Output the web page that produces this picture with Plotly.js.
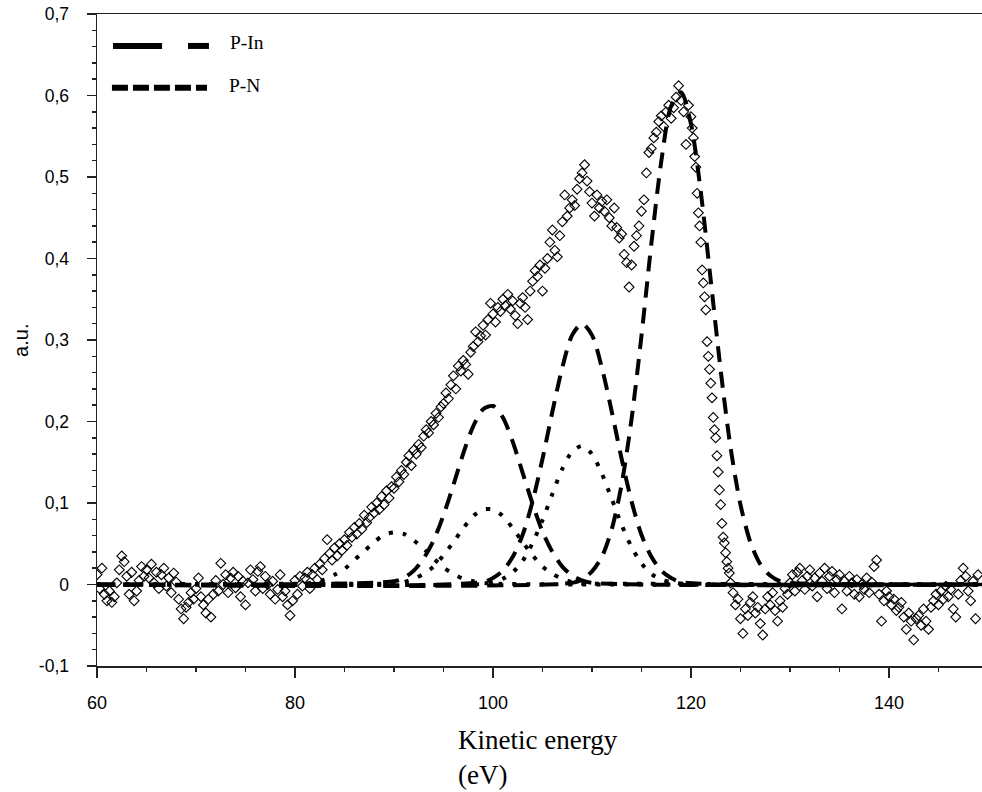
<!DOCTYPE html>
<html><head><meta charset="utf-8">
<script src="https://cdn.plot.ly/plotly-3.0.1.min.js"></script>
<style>html,body{margin:0;padding:0;background:#fff}#chart{width:982px;height:792px}</style>
</head><body><div id="chart"></div>
<script>
// Measured spectrum (kinetic energy in eV, intensity in a.u.)
const energy = [
60,60.25,60.5,60.75,61,61.25,61.5,61.75,62,62.25,62.5,62.75,63,63.25,63.5,63.75,64,64.25,64.5,64.75,
65,65.25,65.5,65.75,66,66.25,66.5,66.75,67,67.25,67.5,67.75,68,68.25,68.5,68.75,69,69.25,69.5,69.75,
70,70.25,70.5,70.75,71,71.25,71.5,71.75,72,72.25,72.5,72.75,73,73.25,73.5,73.75,74,74.25,74.5,74.75,
75,75.25,75.5,75.75,76,76.25,76.5,76.75,77,77.25,77.5,77.75,78,78.25,78.5,78.75,79,79.25,79.5,79.75,
80,80.25,80.5,80.75,81,81.25,81.5,81.75,82,82.25,82.5,82.75,83,83.25,83.5,83.75,84,84.25,84.5,84.75,
85,85.25,85.5,85.75,86,86.25,86.5,86.75,87,87.25,87.5,87.75,88,88.25,88.5,88.75,89,89.25,89.5,89.75,
90,90.25,90.5,90.75,91,91.25,91.5,91.75,92,92.25,92.5,92.75,93,93.25,93.5,93.75,94,94.25,94.5,94.75,
95,95.25,95.5,95.75,96,96.25,96.5,96.75,97,97.25,97.5,97.75,98,98.25,98.5,98.75,99,99.25,99.5,99.75,
100,100.25,100.5,100.75,101,101.25,101.5,101.75,102,102.25,102.5,102.75,103,103.25,103.5,103.75,104,104.25,104.5,104.75,
105,105.25,105.5,105.75,106,106.25,106.5,106.75,107,107.25,107.5,107.75,108,108.25,108.5,108.75,109,109.25,109.5,109.75,
110,110.25,110.5,110.75,111,111.25,111.5,111.75,112,112.25,112.5,112.75,113,113.25,113.5,113.75,114,114.25,114.5,114.75,
115,115.25,115.5,115.75,116,116.25,116.5,116.75,117,117.25,117.5,117.75,118,118.25,118.5,118.75,119,119.25,119.5,119.75,
120,120.125,120.25,120.375,120.5,120.625,120.75,120.875,121,121.125,121.25,121.375,121.5,121.625,121.75,121.875,
122,122.125,122.25,122.375,122.5,122.625,122.75,122.875,123,123.125,123.25,123.375,123.5,123.625,123.75,123.875,124,
124.25,124.5,124.75,
125,125.25,125.5,125.75,126,126.25,126.5,126.75,127,127.25,127.5,127.75,128,128.25,128.5,128.75,129,129.25,129.5,129.75,
130,130.25,130.5,130.75,131,131.25,131.5,131.75,132,132.25,132.5,132.75,133,133.25,133.5,133.75,134,134.25,134.5,134.75,
135,135.25,135.5,135.75,136,136.25,136.5,136.75,137,137.25,137.5,137.75,138,138.25,138.5,138.75,139,139.25,139.5,139.75,
140,140.25,140.5,140.75,141,141.25,141.5,141.75,142,142.25,142.5,142.75,143,143.25,143.5,143.75,144,144.25,144.5,144.75,
145,145.25,145.5,145.75,146,146.25,146.5,146.75,147,147.25,147.5,147.75,148,148.25,148.5,148.75,149
];
const intensity = [
0.012,-0.005,0.020,-0.012,-0.020,-0.008,-0.022,-0.015,0.002,0.018,0.035,0.028,0.010,-0.012,0.015,-0.020,-0.008,0.005,0.022,0.010,
0.018,0.008,0.025,0.002,0.015,-0.005,0.012,0.020,-0.002,0.008,-0.010,0.014,0.003,-0.018,-0.030,-0.042,-0.028,-0.022,-0.010,-0.018,
-0.005,0.008,-0.015,-0.025,-0.035,-0.018,-0.040,-0.012,0.005,-0.008,0.026,0.000,0.012,-0.010,0.008,0.015,-0.004,0.010,-0.015,0.004,
-0.025,0.002,0.018,0.006,-0.008,0.016,0.022,-0.005,0.010,0.000,-0.012,0.004,-0.018,-0.006,0.012,-0.015,-0.008,-0.025,-0.038,-0.020,
0.005,-0.012,0.010,-0.002,0.008,0.015,-0.005,0.012,0.020,0.006,0.025,0.018,0.032,0.055,0.038,0.030,0.045,0.035,0.050,0.042,
0.055,0.048,0.064,0.058,0.070,0.062,0.075,0.068,0.085,0.076,0.082,0.095,0.088,0.100,0.092,0.108,0.098,0.115,0.106,0.120,
0.118,0.132,0.126,0.140,0.135,0.150,0.158,0.146,0.165,0.160,0.172,0.168,0.182,0.190,0.186,0.200,0.196,0.210,0.205,0.218,
0.222,0.235,0.228,0.245,0.256,0.240,0.268,0.262,0.275,0.270,0.258,0.285,0.292,0.310,0.298,0.305,0.318,0.306,0.325,0.345,
0.332,0.322,0.340,0.335,0.350,0.342,0.356,0.338,0.348,0.330,0.320,0.345,0.352,0.340,0.325,0.360,0.372,0.385,0.378,0.392,
0.360,0.388,0.400,0.420,0.435,0.410,0.402,0.428,0.445,0.478,0.452,0.462,0.472,0.465,0.485,0.498,0.505,0.515,0.495,0.482,
0.468,0.452,0.478,0.462,0.470,0.458,0.472,0.450,0.440,0.462,0.438,0.425,0.430,0.405,0.395,0.365,0.392,0.415,0.428,0.440,
0.458,0.472,0.505,0.530,0.535,0.548,0.555,0.568,0.575,0.562,0.580,0.588,0.572,0.585,0.598,0.612,0.594,0.580,0.540,0.588,
0.574,0.560,0.548,0.525,0.512,0.480,0.456,0.440,0.420,0.386,0.370,0.353,0.337,0.298,0.280,0.264,
0.247,0.229,0.205,0.190,0.180,0.158,0.138,0.116,0.098,0.075,0.058,0.051,0.039,0.028,0.020,0.014,0.002,
-0.010,-0.025,-0.018,
-0.042,-0.060,-0.030,-0.038,-0.022,-0.015,-0.035,-0.028,-0.048,-0.062,-0.030,-0.015,-0.025,-0.010,-0.032,-0.045,-0.020,-0.028,-0.005,-0.012,
0.002,0.012,-0.008,0.015,0.020,0.005,-0.006,0.010,0.018,-0.002,0.008,-0.015,0.014,0.004,0.020,-0.005,0.010,0.016,-0.010,0.006,
0.012,-0.030,0.004,-0.008,0.010,0.002,-0.012,0.006,-0.015,0.000,-0.006,0.008,-0.010,0.003,0.022,0.030,-0.012,-0.045,-0.020,-0.008,
-0.015,-0.025,-0.018,-0.032,-0.028,-0.022,-0.040,-0.055,-0.035,-0.045,-0.068,-0.042,-0.038,-0.050,-0.030,-0.045,-0.055,-0.028,-0.020,-0.012,
-0.025,-0.008,-0.018,-0.002,-0.015,-0.006,-0.030,-0.040,-0.012,0.005,0.020,0.010,-0.008,-0.020,0.004,-0.042,0.012
];

// Fitted component curves
const dashPeak1X = [60,90,91,92,93,94,95,96,97,98,99,100,101,102,103,104,105,106,107,108,109,110,149];
const dashPeak1Y = [0,0.004,0.008,0.017,0.032,0.054,0.085,0.122,0.161,0.194,0.215,0.219,0.205,0.175,0.137,0.099,0.065,0.040,0.022,0.011,0.005,0.002,0];
const dashPeak2X = [60,99,100,101,102,103,104,105,106,107,108,109,110,111,112,113,114,115,116,117,118,119,149];
const dashPeak2Y = [0,0.003,0.008,0.017,0.034,0.061,0.102,0.154,0.212,0.266,0.306,0.320,0.306,0.266,0.212,0.154,0.102,0.061,0.034,0.017,0.008,0.003,0];
const dashPeak3X = [60,108,109,110,111,112,113,114,115,116,117,118,119,120,121,122,123,124,125,126,127,128,129,130,149];
const dashPeak3Y = [0,0.002,0.006,0.016,0.034,0.068,0.123,0.203,0.305,0.418,0.519,0.587,0.604,0.565,0.481,0.373,0.263,0.168,0.098,0.052,0.025,0.011,0.004,0.002,0];
const dotPeak1X = [60,80,81,82,83,84,85,86,87,88,89,90,91,92,93,94,95,96,97,98,99,100,149];
const dotPeak1Y = [0,0.001,0.001,0.003,0.006,0.012,0.019,0.030,0.041,0.052,0.061,0.064,0.062,0.054,0.044,0.032,0.021,0.013,0.007,0.004,0.002,0.001,0];
const dotPeak2X = [60,89,90,91,92,93,94,95,96,97,98,99,100,101,102,103,104,105,106,107,108,109,110,149];
const dotPeak2Y = [0,0.001,0.001,0.003,0.007,0.013,0.022,0.036,0.052,0.069,0.084,0.092,0.092,0.084,0.069,0.052,0.036,0.022,0.013,0.007,0.003,0.001,0.001,0];
const dotPeak3X = [60,98,99,100,101,102,103,104,105,106,107,108,109,110,111,112,113,114,115,116,117,118,119,149];
const dotPeak3Y = [0,0.000,0.001,0.003,0.007,0.015,0.029,0.051,0.079,0.111,0.142,0.163,0.170,0.160,0.136,0.105,0.073,0.046,0.026,0.013,0.006,0.003,0.001,0];
const baselineX = [123.2, 149.6];
const baselineY = [0, 0];

// Ticks and labels
const xTickVals = [60, 80, 100, 120, 140];
const xTickText = ['60', '80', '100', '120', '140'];
const yTickVals = [-0.1, 0, 0.1, 0.2, 0.3, 0.4, 0.5, 0.6, 0.7];
const yTickText = ['-0,1', '0', '0,1', '0,2', '0,3', '0,4', '0,5', '0,6', '0,7'];
const legendNames = ['P-In', 'P-N'];
const xTitle = 'Kinetic energy<br>(eV)';
const yTitle = 'a.u.';

const sans = 'Liberation Sans, Arial, sans-serif';
const serif = 'Liberation Serif, Times New Roman, serif';
const dashStyle = {color: '#000', width: 4, dash: '16px,10px', shape: 'spline', smoothing: 0.8};
const dotStyle = {color: '#000', width: 4, dash: '4px,10px', shape: 'spline', smoothing: 0.8};

const traces = [
  {x: energy, y: intensity, mode: 'markers', type: 'scatter',
   marker: {symbol: 'diamond-open', size: 7.5, color: '#000', line: {width: 1.1, color: '#000'}}},
  {x: baselineX, y: baselineY, mode: 'lines', line: {color: '#000', width: 3.5}},
  {x: dashPeak1X, y: dashPeak1Y, mode: 'lines', line: dashStyle},
  {x: dashPeak2X, y: dashPeak2Y, mode: 'lines', line: dashStyle},
  {x: dashPeak3X, y: dashPeak3Y, mode: 'lines', line: dashStyle},
  {x: dotPeak1X, y: dotPeak1Y, mode: 'lines', line: dotStyle},
  {x: dotPeak2X, y: dotPeak2Y, mode: 'lines', line: dotStyle},
  {x: dotPeak3X, y: dotPeak3Y, mode: 'lines', line: dotStyle}
];

const axisCommon = {
  showgrid: false, zeroline: false, showline: true, linecolor: '#222', linewidth: 1.5,
  ticks: 'outside', tickwidth: 1.5, tickcolor: '#222', tickmode: 'array'
};

const layout = {
  width: 982, height: 792,
  margin: {l: 97, r: 0, t: 14, b: 126, pad: 0},
  paper_bgcolor: '#fff', plot_bgcolor: '#fff',
  showlegend: false,
  xaxis: Object.assign({}, axisCommon, {
    range: [60, 149.4], mirror: true, ticklen: 10,
    tickvals: xTickVals, ticktext: xTickText,
    tickfont: {family: sans, size: 18, color: '#000'}, ticklabelstandoff: 10,
    minor: {tickmode: 'linear', tick0: 60, dtick: 5, ticks: 'outside', ticklen: 4, tickwidth: 1.5, tickcolor: '#222'}
  }),
  yaxis: Object.assign({}, axisCommon, {
    range: [-0.1, 0.7], ticklen: 9,
    tickvals: yTickVals, ticktext: yTickText,
    tickfont: {family: sans, size: 17.5, color: '#000'}, ticklabelstandoff: 14,
    minor: {tickmode: 'linear', tick0: 0, dtick: 0.02, ticks: 'outside', ticklen: 4, tickwidth: 1.5, tickcolor: '#222'}
  }),
  shapes: [
    {type: 'line', xref: 'paper', yref: 'paper', x0: 0.0181, x1: 0.0735, y0: 0.951, y1: 0.951, line: {color: '#000', width: 6}},
    {type: 'line', xref: 'paper', yref: 'paper', x0: 0.1028, x1: 0.1265, y0: 0.951, y1: 0.951, line: {color: '#000', width: 6}},
    {type: 'line', xref: 'paper', yref: 'paper', x0: 0.0169, x1: 0.1243, y0: 0.887, y1: 0.887, line: {color: '#000', width: 6, dash: '16px,5px'}}
  ],
  annotations: [
    {xref: 'paper', yref: 'paper', x: 0.1480, y: 0.956, xanchor: 'left', yanchor: 'middle', showarrow: false,
     text: legendNames[0], font: {family: serif, size: 19.5, color: '#000'}},
    {xref: 'paper', yref: 'paper', x: 0.1469, y: 0.890, xanchor: 'left', yanchor: 'middle', showarrow: false,
     text: legendNames[1], font: {family: serif, size: 19.5, color: '#000'}},
    {xref: 'paper', yref: 'paper', x: 0.406, y: -0.088, xanchor: 'left', yanchor: 'top', align: 'left', showarrow: false,
     text: xTitle, font: {family: serif, size: 27, color: '#000'}},
    {xref: 'paper', yref: 'paper', x: -0.086, y: 0.5, xanchor: 'center', yanchor: 'middle', textangle: -90, showarrow: false,
     text: yTitle, font: {family: sans, size: 20, color: '#000'}}
  ]
};

Plotly.newPlot('chart', traces, layout, {staticPlot: true, displayModeBar: false});
</script>
</body></html>
